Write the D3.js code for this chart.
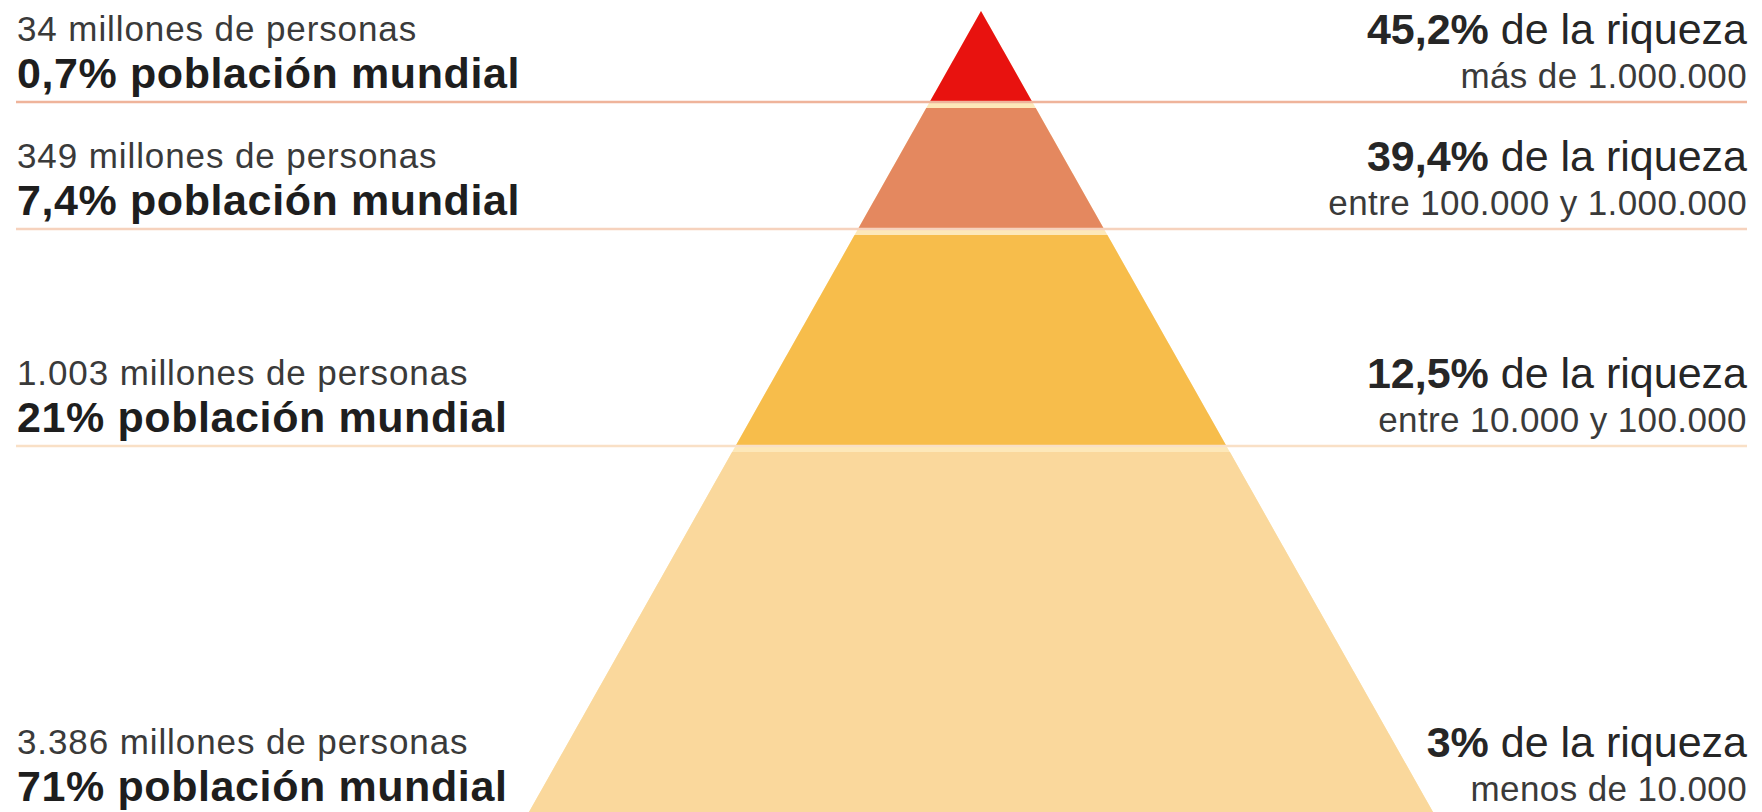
<!DOCTYPE html>
<html>
<head>
<meta charset="utf-8">
<script src="https://cdn.jsdelivr.net/npm/d3@7"></script>
<style>
  body { margin: 0; background: #fff; }
  svg { display: block; }
  text { font-family: "Liberation Sans", Arial, Helvetica, sans-serif; }
</style>
</head>
<body>
<div id="chart"></div>
<script>
// data, top of the pyramid first
const millones = [34, 349, 1003, 3386];          // millones de personas
const poblacion = [0.7, 7.4, 21, 71];            // % población mundial
const riqueza = [45.2, 39.4, 12.5, 3];           // % de la riqueza
const tramos = ["más de 1.000.000", "entre 100.000 y 1.000.000", "entre 10.000 y 100.000", "menos de 10.000"];

const width = 1762, height = 812;
const apexX = 981;

// spanish number format
const es = d3.formatLocale({ decimal: ",", thousands: ".", grouping: [3], currency: ["", " €"] });
const fmtPct = es.format(".1~f");
const fmtInt = es.format(",d");

const svg = d3.select("#chart").append("svg")
    .attr("width", width)
    .attr("height", height);

// layer boundaries (by level index) and half width of the pyramid at a given y
const y = d3.scaleLinear().domain([0, 1, 2, 3, 4]).range([11, 102, 229, 446, 830]);
const half = d3.scaleLinear().domain([11, 812]).range([0, 452]);
const color = d3.scaleOrdinal().domain(d3.range(4)).range(["#e8120f", "#e4885f", "#f7bd4b", "#fad89c"]);
const lineColor = ["#efb49b", "#f6d2bd", "#f9e0c6"];
const gap = 6;

const trap = (t, b) => [
    [apexX - half(t), t], [apexX + half(t), t],
    [apexX + half(b), b], [apexX - half(b), b]
];

// pale background of the whole pyramid shows through the gaps
svg.append("path")
    .attr("d", d3.line()(trap(y(0), y(4))) + "Z")
    .attr("fill", "#fde8b9");

const layers = millones.map((m, i) => ({
    i: i,
    top: i === 0 ? y(0) : y(i) + gap,
    bot: y(i + 1) - 1
}));

svg.append("g")
    .selectAll("path")
    .data(layers)
    .join("path")
    .attr("d", d => d3.line()(trap(d.top, d.bot)) + "Z")
    .attr("fill", d => color(d.i));

// separator lines across the page
svg.append("g")
    .selectAll("line")
    .data([1, 2, 3])
    .join("line")
    .attr("x1", 16).attr("x2", 1747)
    .attr("y1", d => y(d)).attr("y2", d => y(d))
    .attr("stroke", d => lineColor[d - 1])
    .attr("stroke-width", 2.5);

// labels
const bottoms = [y(1), y(2), y(3), 815];
const left = svg.append("g");
const right = svg.append("g").attr("text-anchor", "end");

millones.forEach((m, i) => {
    const b = bottoms[i];
    left.append("text")
        .attr("x", 17).attr("y", b - 61)
        .attr("font-size", 35).attr("letter-spacing", 0.9).attr("fill", "#3a3a3a")
        .text(fmtInt(m) + " millones de personas");
    left.append("text")
        .attr("x", 17).attr("y", b - 14)
        .attr("font-size", 43).attr("font-weight", 700).attr("letter-spacing", 0.6).attr("fill", "#1e1e1e")
        .text(fmtPct(poblacion[i]) + "% población mundial");

    const t = right.append("text")
        .attr("x", 1747).attr("y", b - 58)
        .attr("font-size", 43).attr("fill", "#262626");
    t.append("tspan").attr("font-weight", 700).text(fmtPct(riqueza[i]) + "%");
    t.append("tspan").text(" de la riqueza");
    right.append("text")
        .attr("x", 1747).attr("y", b - 14)
        .attr("font-size", 35).attr("letter-spacing", 0.4).attr("fill", "#3a3a3a")
        .text(tramos[i]);
});
</script>
</body>
</html>
